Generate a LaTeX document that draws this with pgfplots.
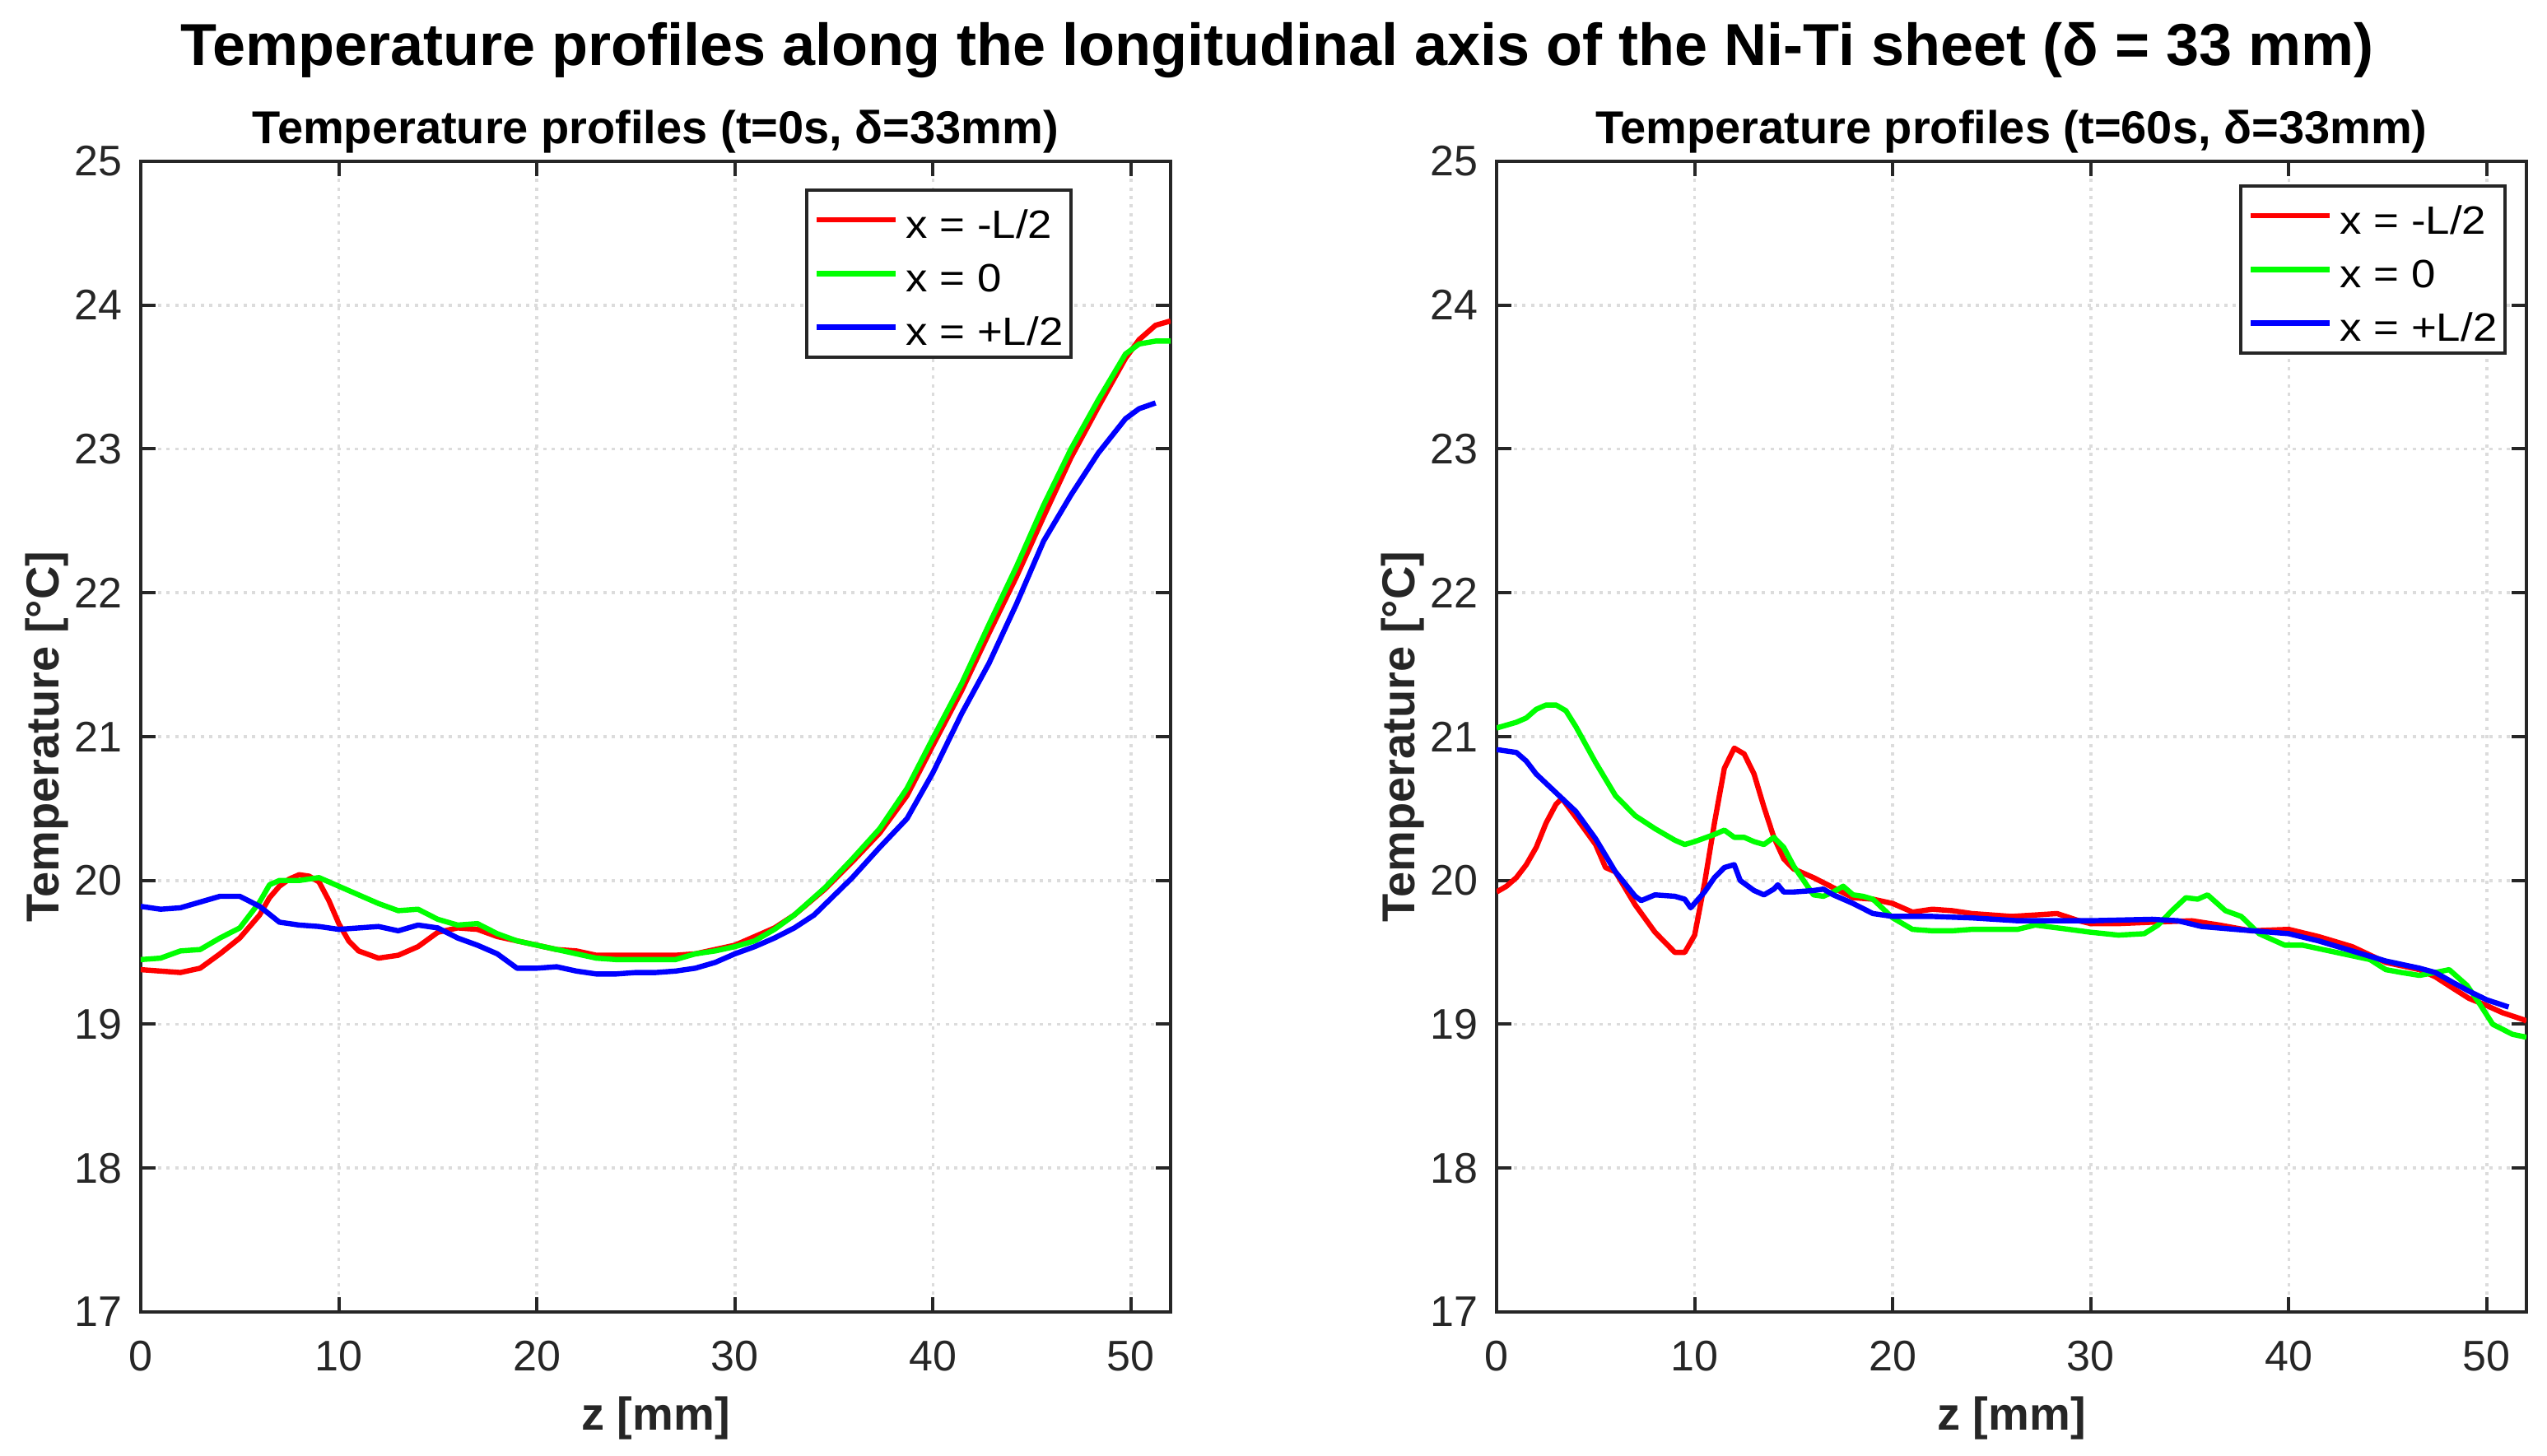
\documentclass[border=0pt]{standalone}
\usepackage{pgfplots}
\pgfplotsset{compat=1.18}
\usepackage{fontspec}
\setmainfont{Liberation Sans}
\newfontfamily\legfont[FakeStretch=1.1]{Liberation Sans}
\definecolor{axgray}{RGB}{38,38,38}
\definecolor{gridgray}{RGB}{220,220,220}
\definecolor{mred}{RGB}{255,0,0}
\definecolor{mgreen}{RGB}{0,255,0}
\definecolor{mblue}{RGB}{0,0,255}

\pgfplotsset{
  myax/.style={
    scale only axis,
    width=312.75pt, height=349.5pt,
    xmin=0, xmax=52, ymin=17, ymax=25,
    xtick={0,10,20,30,40,50},
    ytick={17,18,19,20,21,22,23,24,25},
    tick pos=both,
    tick align=inside,
    major tick length=4.5pt,
    major tick style={line width=1pt, color=axgray},
    axis line style={line width=1pt, color=axgray},
    grid=major,
    major grid style={line width=0.9pt, color=gridgray, dash pattern=on 1pt off 1.6pt},
    /pgf/number format/assume math mode=true,
    tick label style={font=\fontsize{13}{13}\selectfont, color=axgray},
    xticklabel style={anchor=base, inner sep=0pt, yshift=-17.75pt},
    yticklabel style={anchor=east, inner sep=0pt, xshift=-5.5pt},
    every axis title/.style={at={(axis description cs:0.5,1)}, anchor=base, yshift=5.25pt,
      font=\fontsize{14}{16}\selectfont\bfseries, color=black},
    every axis x label/.style={at={(axis description cs:0.5,0)}, anchor=base, yshift=-35.75pt,
      font=\fontsize{14}{16}\selectfont\bfseries, color=axgray},
    every axis y label/.style={at={(axis description cs:-0.0799,0.5)}, rotate=90, anchor=base,
      font=\fontsize{14}{16}\selectfont\bfseries, color=axgray},
    xlabel={z [mm]},
    ylabel={Temperature [°C]},
    legend cell align=left,
    legend image code/.code={%
      \path (0pt,-1pt) (24pt,2.6pt);
      \draw[#1] (0pt,0pt) -- (24pt,0pt);},
    legend style={
      draw=axgray, line width=1pt, fill=white,
      font=\legfont\fontsize{12}{12}\selectfont,
      inner xsep=2.4pt, inner ysep=3.5pt,
      row sep=5.2pt,
      nodes={inner sep=0pt, text height=11.1pt, text depth=0pt, text=black},
      /tikz/every odd column/.append style={column sep=2.25pt},
    },
    every axis plot/.append style={line width=1.6pt, line join=round},
  }
}

\begin{document}
\begin{tikzpicture}
\useasboundingbox (0,0) rectangle (773.5pt,442pt);
\node[anchor=base, font=\fontsize{18}{20}\selectfont\bfseries] at (387.9pt,422pt)
  {Temperature profiles along the longitudinal axis of the Ni-Ti sheet (δ = 33 mm)};

\begin{axis}[myax, at={(42.75pt,43.5pt)}, anchor=south west,
  title={Temperature profiles (t=0s, δ=33mm)},
  legend style={at={(1,1)}, anchor=north east, xshift=-29.75pt, yshift=-8.25pt}]
\addplot[mred] coordinates {
(0,19.38) (1,19.37) (2,19.36) (3,19.39) (4,19.49) (5,19.60) (6,19.76) (6.5,19.88)
(7,19.96) (7.5,20.01) (8,20.04) (8.5,20.03) (9,19.99) (9.5,19.86) (10,19.70)
(10.5,19.58) (11,19.51) (12,19.46) (13,19.48) (14,19.54) (15,19.64) (16,19.67)
(17,19.66) (18,19.61) (19,19.58) (20,19.55) (21,19.52) (22,19.51) (23,19.48)
(24,19.48) (25,19.48) (26,19.48) (27,19.48) (28,19.49) (29,19.52) (30,19.55)
(31,19.61) (32,19.67) (33,19.76) (34.55,19.94) (35.93,20.13) (37.31,20.33)
(38.69,20.59) (40,20.94) (41.45,21.32) (42.83,21.72) (44.21,22.11) (45.59,22.53)
(46.97,22.94) (48.34,23.29) (49.72,23.63) (50.41,23.76) (51.24,23.86) (52,23.89)
};
\addlegendentry{x = -L/2}
\addplot[mgreen] coordinates {
(0,19.45) (1,19.46) (2,19.51) (3,19.52) (4,19.60) (5,19.67) (6,19.85) (6.5,19.97)
(7,20.00) (8,20.00) (9,20.02) (10,19.96) (11,19.90) (12,19.84) (13,19.79) (14,19.80)
(15,19.73) (16,19.69) (17,19.70) (18,19.63) (19,19.58) (20,19.55) (21,19.52)
(22,19.49) (23,19.46) (24,19.45) (25,19.45) (26,19.45) (27,19.45) (28,19.49)
(29,19.51) (30,19.54) (31,19.58) (32,19.66) (33,19.76) (34.55,19.95) (35.93,20.15)
(37.31,20.36) (38.69,20.64) (40,20.99) (41.45,21.37) (42.83,21.78) (44.21,22.18)
(45.59,22.61) (46.97,23.00) (48.34,23.34) (49.72,23.66) (50.41,23.73) (51.24,23.75)
(52,23.75)
};
\addlegendentry{x = 0}
\addplot[mblue] coordinates {
(0,19.82) (1,19.80) (2,19.81) (3,19.85) (4,19.89) (5,19.89) (6,19.82) (7,19.71)
(8,19.69) (9,19.68) (10,19.66) (11,19.67) (12,19.68) (13,19.65) (14,19.69)
(15,19.67) (16,19.60) (17,19.55) (18,19.49) (19,19.39) (20,19.39) (21,19.40)
(22,19.37) (23,19.35) (24,19.35) (25,19.36) (26,19.36) (27,19.37) (28,19.39)
(29,19.43) (30,19.49) (31,19.54) (32,19.60) (33,19.67) (34,19.76) (35.93,20.02)
(37.31,20.23) (38.69,20.43) (40,20.75) (41.45,21.16) (42.83,21.51) (44.21,21.92)
(45.59,22.36) (46.97,22.68) (48.34,22.97) (49.72,23.21) (50.41,23.28) (51.24,23.32)
};
\addlegendentry{x = +L/2}
\end{axis}

\begin{axis}[myax, at={(454.5pt,43.5pt)}, anchor=south west,
  title={Temperature profiles (t=60s, δ=33mm)},
  legend style={at={(1,1)}, anchor=north east, xshift=-6pt, yshift=-7pt}]
\addplot[mred] coordinates {
(0,19.92) (0.5,19.96) (1,20.02) (1.5,20.11) (2,20.23) (2.5,20.40) (3,20.53)
(3.3,20.57) (4,20.44) (5,20.25) (5.5,20.09) (6,20.06) (7,19.83) (8,19.64)
(9,19.50) (9.5,19.50) (10,19.62) (10.5,19.98) (11,20.40) (11.5,20.78) (12,20.92)
(12.5,20.88) (13,20.74) (13.5,20.51) (14,20.30) (14.5,20.15) (15,20.08) (16,20.02)
(17,19.95) (18,19.88) (19,19.87) (20,19.84) (21,19.78) (22,19.80) (23,19.79)
(24,19.77) (25,19.76) (26,19.75) (27.2,19.76) (28.3,19.77) (29.4,19.72) (30,19.70)
(31.4,19.70) (33.1,19.71) (35.1,19.72) (36.5,19.69) (38.1,19.65) (40,19.66)
(41.5,19.61) (43.2,19.54) (44.9,19.43) (46.6,19.38) (47.4,19.33) (48.3,19.25)
(49.1,19.18) (50,19.13) (50.8,19.08) (51.9,19.03) (52,19.02)
};
\addlegendentry{x = -L/2}
\addplot[mgreen] coordinates {
(0,21.06) (0.5,21.08) (1,21.10) (1.5,21.13) (2,21.19) (2.5,21.22) (3,21.22)
(3.5,21.18) (4,21.07) (5,20.82) (6,20.59) (7,20.45) (8,20.36) (9,20.28) (9.5,20.25)
(10,20.27) (11,20.32) (11.5,20.35) (12,20.30) (12.5,20.30) (13,20.27) (13.5,20.25)
(14,20.30) (14.5,20.23) (15,20.10) (16,19.90) (16.5,19.89) (17,19.92) (17.5,19.96)
(18,19.90) (18.5,19.89) (19,19.87) (20,19.74) (21,19.66) (22,19.65) (23,19.65)
(24,19.66) (25,19.66) (26.3,19.66) (27.2,19.69) (28.9,19.66) (30,19.64) (31.4,19.62)
(32.7,19.63) (33.4,19.69) (34.1,19.79) (34.8,19.88) (35.4,19.87) (35.9,19.90)
(36.8,19.79) (37.6,19.75) (38.5,19.63) (39.8,19.55) (40.7,19.55) (42.4,19.50)
(44.1,19.45) (44.9,19.38) (45.7,19.36) (46.6,19.34) (47.4,19.36) (48.1,19.38)
(49.0,19.27) (49.6,19.15) (50.3,19.00) (51.3,18.93) (52,18.91)
};
\addlegendentry{x = 0}
\addplot[mblue] coordinates {
(0,20.91) (0.5,20.90) (1,20.89) (1.5,20.83) (2,20.74) (3,20.61) (4,20.48) (5,20.29)
(6,20.06) (7,19.89) (7.3,19.86) (8,19.90) (9,19.89) (9.5,19.87) (9.8,19.81)
(10.5,19.92) (11,20.02) (11.5,20.09) (12,20.11) (12.3,20.00) (13,19.93) (13.5,19.90)
(14,19.94) (14.2,19.97) (14.5,19.92) (15,19.92) (16,19.93) (16.5,19.94) (17,19.90)
(18,19.84) (19,19.77) (20,19.75) (22,19.75) (24,19.74) (26.3,19.72) (30,19.72)
(33.1,19.73) (34.4,19.72) (35.6,19.68) (37.3,19.66) (40,19.63) (41.5,19.58)
(43.2,19.51) (44.9,19.44) (46.6,19.39) (47.4,19.36) (48.3,19.29) (49.1,19.23)
(50,19.17) (51.1,19.12)
};
\addlegendentry{x = +L/2}
\end{axis}
\end{tikzpicture}
\end{document}
